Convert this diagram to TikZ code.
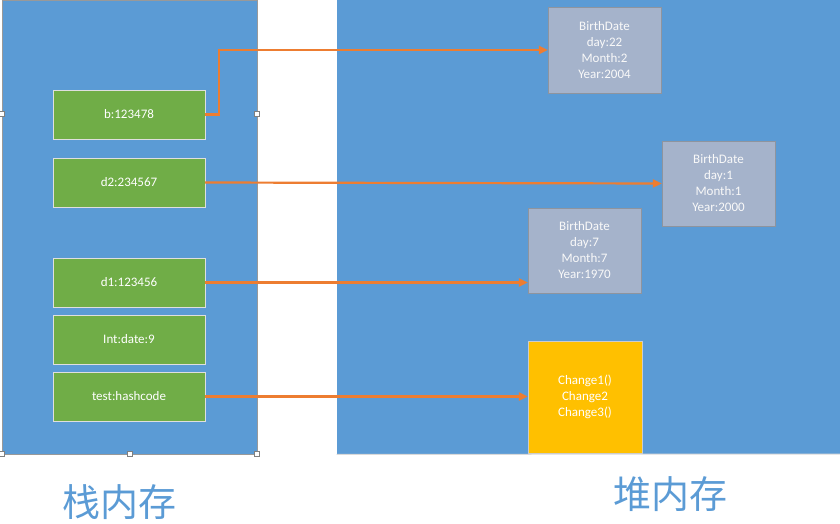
\documentclass[tikz,border=0pt]{standalone}
\usepackage{fontspec}
\setmainfont{Carlito}
\newfontfamily\cjk{Noto Sans CJK SC}
\usepackage{tikz}
\usetikzlibrary{calc,arrows.meta,positioning}

\definecolor{panelblue}{HTML}{5B9BD5}
\definecolor{slotgreen}{HTML}{70AD47}
\definecolor{objgray}{HTML}{A5B3CB}
\definecolor{objyellow}{HTML}{FFC000}
\definecolor{refline}{HTML}{ED7D31}

\tikzset{
  panel/.style={draw=gray!80, fill=panelblue, line width=0.8pt, inner sep=0pt},
  slot/.style={draw=gray!25, fill=slotgreen, text=white, minimum width=152pt, minimum height=49pt, inner sep=0pt, font=\fontsize{13}{15}\selectfont},
  obj/.style={draw=gray!60!objgray, fill=objgray, text=white!95!gray, align=center, minimum width=113pt, minimum height=85pt, inner sep=0pt, font=\fontsize{13}{16}\selectfont},
  handle/.style={draw=gray, fill=white, minimum size=5pt, inner sep=0pt, line width=0.5pt},
  reflink/.style={refline, line width=2.2pt, -{Triangle[length=9pt, width=8pt]}},
}

\begin{document}
\begin{tikzpicture}[x=1pt, y=-1pt]
					\useasboundingbox (0,0) rectangle (840,524);
					\begin{scope}
					\clip (0,0) rectangle (840,524);
					\node[panel, minimum width=255pt, minimum height=454pt] (stack) at (129.5,227) {};
					\node[panel, draw=none, minimum width=505pt, minimum height=454pt] (heap) at (589.5,227) {};
					\end{scope}
					\draw[gray!30, line width=1pt] (heap.south west) -- (840,454);

					\foreach \hx/\hy in {2/114, 257/114, 2/454, 129.5/454, 257/454}
						\node[handle] at (\hx,\hy) {};

					\node[slot] (b) at (129,114.5) {b:123478};
					\node[slot] (d2) at (129,182.5) {d2:234567};
					\node[slot] (d1) at (129,282.5) {d1:123456};
					\node[slot] (int) at (129,339.5) {Int:date:9};
					\node[slot] (test) at (129,396.5) {test:hashcode};

					\node[obj, minimum height=86pt] (date1) at (604.5,50) {BirthDate\\day:22\\Month:2\\Year:2004};
					\node[obj] (date2) at (718.5,183.5) {BirthDate\\day:1\\Month:1\\Year:2000};
					\node[obj] (date3) at (584.5,250.5) {BirthDate\\day:7\\Month:7\\Year:1970};
					\node[obj, draw=gray!40, fill=objyellow, text=white, minimum width=114pt, minimum height=112pt] (methods) at (585,397) {Change1()\\Change2\\Change3()};

					\node[font=\cjk\fontsize{38}{40}\selectfont, text=panelblue] (stacklabel) at (119,502) {栈内存};
					\node[font=\cjk\fontsize{38}{40}\selectfont, text=panelblue] (heaplabel) at (670,494) {堆内存};

					\draw [reflink]
						(b.east) -- ++(14,0) |- (date1.west);
					\path [reflink]
						(d2.east) edge (date2.west)
						(d1.east) edge (d1.east -| date3.west)
						(test.east) edge (test.east -| methods.west)
					;
                \end{tikzpicture}
\end{document}
